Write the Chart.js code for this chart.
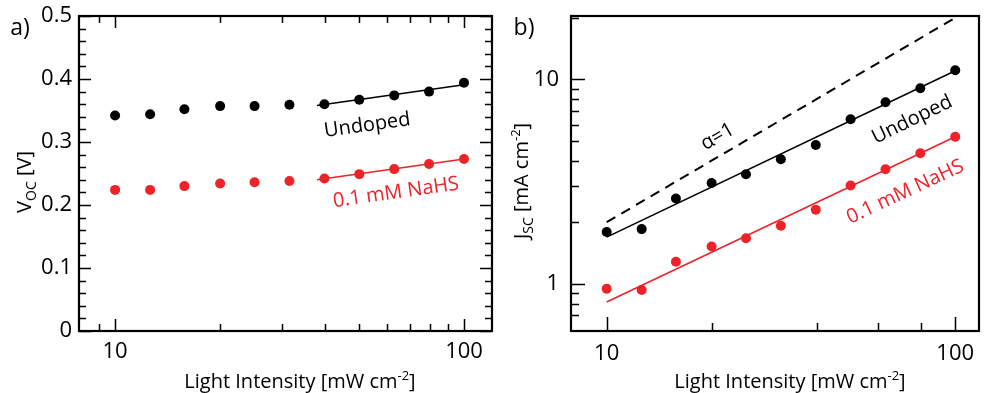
<!DOCTYPE html>
<html>
<head>
<meta charset="utf-8">
<script src="https://cdn.jsdelivr.net/npm/chart.js@4"></script>
<style>
  html, body { margin: 0; padding: 0; background: #fff; }
  #wrap { position: relative; width: 984px; height: 393px; overflow: hidden; }
  canvas { position: absolute; top: 0; }
</style>
</head>
<body>
<div id="wrap">
  <canvas id="vocChart" width="500" height="393" style="left:0"></canvas>
  <canvas id="jscChart" width="484" height="393" style="left:500px"></canvas>
</div>
<script>
// light intensity (mW cm-2), same for both panels
const intensity = [10, 12.6, 15.8, 20, 25.1, 31.6, 39.8, 50.1, 63.1, 79.4, 100];

// panel a) Voc [V]
const vocUndoped = [0.342, 0.344, 0.352, 0.357, 0.357, 0.359, 0.360, 0.367, 0.374, 0.380, 0.394];
const vocNaHS    = [0.224, 0.224, 0.230, 0.234, 0.236, 0.238, 0.242, 0.249, 0.257, 0.265, 0.273];
const vocFitX        = [37.9, 100];
const vocFitUndoped  = [0.358, 0.391];
const vocFitNaHS     = [0.240, 0.273];

// panel b) Jsc [mA cm-2]
const jscUndoped = [1.79, 1.85, 2.61, 3.11, 3.43, 4.06, 4.77, 6.38, 7.72, 9.04, 11.08];
const jscNaHS    = [0.945, 0.931, 1.28, 1.52, 1.67, 1.92, 2.30, 3.02, 3.63, 4.35, 5.24];
const jscFitX        = [10, 100];
const jscFitUndoped  = [1.69, 11.0];
const jscFitNaHS     = [0.814, 5.24];
const alphaOneX = [10, 100];
const alphaOne  = [2.0, 20.0];

// tick marks and labels
const vocXTicks = [9, 10, 20, 30, 40, 50, 60, 70, 80, 90, 100];
const jscXTicks = [10, 20, 40, 60, 80, 100];
const jscYTicks = [0.7, 0.8, 0.9, 1, 2, 3, 4, 5, 6, 7, 8, 9, 10, 20];
const xLabels = [10, 100];
const jscYLabels = [1, 10];

const RED = '#ec2329';
const FONT = "'Open Sans', 'DejaVu Sans', sans-serif";

const pts = (xs, ys) => xs.map((x, i) => ({ x: x, y: ys[i] }));

// inward tick marks + box around the plot
const frame = {
  id: 'frame',
  afterDatasetsDraw(chart, args, o) {
    const ctx = chart.ctx, a = chart.chartArea;
    const xs = chart.scales.x, ys = chart.scales.y;
    ctx.save();
    ctx.strokeStyle = '#000';
    ctx.lineWidth = 1.5;
    ctx.beginPath();
    xs.ticks.forEach(t => {
      const p = Math.round(xs.getPixelForValue(t.value)) + 0.5;
      const len = t.label !== '' ? o.major : o.minor;
      ctx.moveTo(p, a.bottom); ctx.lineTo(p, a.bottom - len);
      if (o.top) { ctx.moveTo(p, a.top); ctx.lineTo(p, a.top + len); }
    });
    ys.ticks.forEach(t => {
      const p = Math.round(ys.getPixelForValue(t.value)) + 0.5;
      const len = t.label !== '' ? o.major : o.minor;
      ctx.moveTo(a.left, p); ctx.lineTo(a.left + len, p);
      if (o.right) { ctx.moveTo(a.right, p); ctx.lineTo(a.right - len, p); }
    });
    ctx.stroke();
    ctx.lineWidth = 2.2;
    ctx.strokeRect(a.left, a.top, a.right - a.left, a.bottom - a.top);
    ctx.restore();
  }
};

// text made of pieces (sub/superscripts), centred at x,y, rotated by angle
function drawRich(ctx, parts, x, y, angle, color) {
  ctx.save();
  ctx.translate(x, y);
  ctx.rotate(angle * Math.PI / 180);
  ctx.fillStyle = color || '#000';
  ctx.textBaseline = 'alphabetic';
  ctx.textAlign = 'left';
  let w = 0;
  parts.forEach(p => { ctx.font = p.size + 'px ' + FONT; p.w = ctx.measureText(p.t).width; w += p.w; });
  let cx = -w / 2;
  parts.forEach(p => {
    ctx.font = p.size + 'px ' + FONT;
    ctx.fillText(p.t, cx, p.dy || 0);
    cx += p.w;
  });
  ctx.restore();
}

// titles and in-plot labels
const notes = {
  id: 'notes',
  afterDraw(chart, args, o) {
    const ctx = chart.ctx;
    const xs = chart.scales.x, ys = chart.scales.y;
    (o.items || []).forEach(n => {
      const px = xs.getPixelForValue(n.x), py = ys.getPixelForValue(n.y);
      drawRich(ctx, [{ t: n.text, size: 20 }], px, py + 7, n.angle, n.color);
    });
    (o.titles || []).forEach(n => drawRich(ctx, n.parts, n.x, n.y, n.angle || 0, '#000'));
  }
};

// fixed axis boxes, no extra room for overhanging labels
const fixBox = (w, h) => s => {
  if (w) s.width = w;
  if (h) s.height = h;
  s.paddingTop = 0; s.paddingBottom = 0; s.paddingLeft = 0; s.paddingRight = 0;
};

function makeChart(id, cfg) {
  return new Chart(document.getElementById(id), {
    type: 'scatter',
    data: { datasets: cfg.datasets },
    options: {
      responsive: false,
      animation: false,
      devicePixelRatio: 1,
      layout: { padding: { top: 16, right: cfg.padRight, left: 0, bottom: 0 } },
      plugins: {
        legend: { display: false },
        tooltip: { enabled: false },
        frame: cfg.frame,
        notes: { items: cfg.notes, titles: cfg.titles }
      },
      scales: {
        x: {
          type: 'logarithmic',
          min: cfg.xMin, max: cfg.xMax,
          grid: { display: false, drawTicks: false },
          border: { display: false },
          afterBuildTicks: s => { s.ticks = cfg.xTicks.map(v => ({ value: v })); },
          afterFit: fixBox(0, 62),
          ticks: {
            autoSkip: false, maxRotation: 0, padding: cfg.xPad, color: '#000',
            font: { family: FONT, size: 22 },
            callback: v => xLabels.includes(v) ? String(v) : ''
          }
        },
        y: cfg.y
      }
    },
    plugins: [frame, notes]
  });
}

const dot = (color, data) => ({ data: data, backgroundColor: color, borderColor: color, pointRadius: 5, pointBorderWidth: 0, showLine: false });
const line = (color, data, dash) => ({ data: data, borderColor: color, borderWidth: dash ? 2 : 1.6, borderDash: dash || [], pointRadius: 0, showLine: true, fill: false });

makeChart('vocChart', {
  xMin: 7.88, xMax: 120.3, xTicks: vocXTicks, xPad: 8, padRight: 8,
  frame: { major: 12, minor: 7, top: true, right: true },
  datasets: [
    line('#000', pts(vocFitX, vocFitUndoped)),
    line(RED, pts(vocFitX, vocFitNaHS)),
    dot('#000', pts(intensity, vocUndoped)),
    dot(RED, pts(intensity, vocNaHS))
  ],
  notes: [
    { text: 'Undoped', x: 53.1, y: 0.3285, angle: -8, color: '#000' },
    { text: '0.1 mM NaHS', x: 64.2, y: 0.2217, angle: -8, color: RED }
  ],
  titles: [
    { parts: [{ t: 'a)', size: 23 }], x: 20, y: 35 },
    { parts: [{ t: 'Light Intensity [mW cm', size: 20 }, { t: '-2', size: 13, dy: -8 }, { t: ']', size: 20 }], x: 300, y: 388 },
    { parts: [{ t: 'V', size: 20 }, { t: 'OC', size: 14, dy: 5 }, { t: ' [V]', size: 20 }], x: 31, y: 182, angle: -90 }
  ],
  y: {
    type: 'linear', min: 0, max: 0.5,
    grid: { display: false, drawTicks: false },
    border: { display: false },
    afterFit: fixBox(79, 0),
    ticks: {
      stepSize: 0.02, autoSkip: false, padding: 7, color: '#000',
      font: { family: FONT, size: 22 },
      callback: v => Math.round(v * 50) % 5 === 0 ? String(+v.toFixed(1)) : ''
    }
  }
});

makeChart('jscChart', {
  xMin: 7.9, xMax: 117, xTicks: jscXTicks, xPad: 10, padRight: 1,
  frame: { major: 14, minor: 8, top: false, right: false },
  datasets: [
    line('#000', pts(alphaOneX, alphaOne), [10, 7]),
    line('#000', pts(jscFitX, jscFitUndoped)),
    line(RED, pts(jscFitX, jscFitNaHS)),
    dot('#000', pts(intensity, jscUndoped)),
    dot(RED, pts(intensity, jscNaHS))
  ],
  notes: [
    { text: '\u03b1=1', x: 21.2, y: 5.35, angle: -30, color: '#000' },
    { text: 'Undoped', x: 76.5, y: 6.47, angle: -26, color: '#000' },
    { text: '0.1 mM NaHS', x: 73.1, y: 2.87, angle: -25, color: RED }
  ],
  titles: [
    { parts: [{ t: 'b)', size: 23 }], x: 24, y: 35 },
    { parts: [{ t: 'Light Intensity [mW cm', size: 20 }, { t: '-2', size: 13, dy: -8 }, { t: ']', size: 20 }], x: 290, y: 388 },
    { parts: [{ t: 'J', size: 20 }, { t: 'SC', size: 14, dy: 5 }, { t: ' [mA cm', size: 20 }, { t: '-2', size: 13, dy: -8 }, { t: ']', size: 20 }], x: 28, y: 181, angle: -90 }
  ],
  y: {
    type: 'logarithmic', min: 0.587, max: 20.4,
    grid: { display: false, drawTicks: false },
    border: { display: false },
    afterBuildTicks: s => { s.ticks = jscYTicks.map(v => ({ value: v })); },
    afterFit: fixBox(71, 0),
    ticks: {
      autoSkip: false, padding: 12, color: '#000',
      font: { family: FONT, size: 22 },
      callback: v => jscYLabels.includes(v) ? String(v) : ''
    }
  }
});
</script>
</body>
</html>
